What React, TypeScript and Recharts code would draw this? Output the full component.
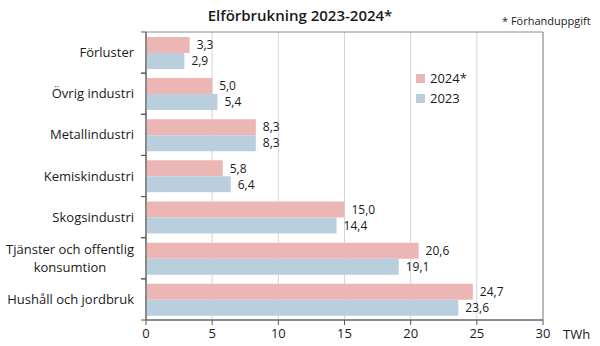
import React from "react";
import {
  BarChart,
  Bar,
  XAxis,
  YAxis,
  CartesianGrid,
  LabelList,
  Legend,
  ReferenceArea,
} from "recharts";

const categories = [
  "Förluster",
  "Övrig industri",
  "Metallindustri",
  "Kemiskindustri",
  "Skogsindustri",
  "Tjänster och offentlig\nkonsumtion",
  "Hushåll och jordbruk",
];
const values2024 = [3.3, 5.0, 8.3, 5.8, 15.0, 20.6, 24.7];
const values2023 = [2.9, 5.4, 8.3, 6.4, 14.4, 19.1, 23.6];
const seriesNames = ["2024*", "2023"];
const xTicks = [0, 5, 10, 15, 20, 25, 30];

const data = categories.map((name, i) => ({
  name,
  y2024: values2024[i],
  y2023: values2023[i],
}));

const FONT = "'Open Sans', sans-serif";
const PINK = "#ebb6b4";
const BLUE = "#b9cfdd";
const TEXT = "#1a1a1a";
const FS = 13;
const LABEL_FS = 12;

const fmt = (v: any) => Number(v).toFixed(1).replace(".", ",");

function CategoryTick(props: any) {
  const { x, y, payload } = props;
  const lines = String(payload.value).split("\n");
  const half = 20.6;
  return (
    <g>
      <line x1={x + 7} x2={x + 12} y1={y - half} y2={y - half} stroke="#555" />
      <line x1={x + 7} x2={x + 12} y1={y + half} y2={y + half} stroke="#555" />
      {lines.length === 1 ? (
        <text x={x} y={y} dy={4.5} textAnchor="end" fontSize={FS} fill={TEXT} fontFamily={FONT}>
          {lines[0]}
        </text>
      ) : (
        lines.map((l, i) => (
          <text
            key={i}
            x={i === 0 ? x : x - 64}
            y={y + (i - 0.5) * 18}
            dy={4.5}
            textAnchor={i === 0 ? "end" : "middle"}
            fontSize={FS}
            fill={TEXT}
            fontFamily={FONT}
          >
            {l}
          </text>
        ))
      )}
    </g>
  );
}

function LegendBox(props: any) {
  const items = [...(props.payload || [])].sort(
    (a: any, b: any) => seriesNames.indexOf(a.value) - seriesNames.indexOf(b.value)
  );
  return (
    <div style={{ fontFamily: FONT, fontSize: FS, color: TEXT }}>
      {items.map((it: any) => (
        <div key={it.value} style={{ display: "flex", alignItems: "center", height: 20 }}>
          <span style={{ width: 9, height: 9, background: it.color, marginRight: 5 }} />
          {it.value}
        </div>
      ))}
    </div>
  );
}

export default function App() {
  return (
    <div style={{ position: "absolute", left: 0, top: 0, width: 600, height: 346, background: "#fff" }}>
      <div
        style={{
          position: "absolute",
          left: 0,
          width: 600,
          top: 5,
          textAlign: "center",
          fontFamily: FONT,
          fontSize: 15,
          fontWeight: 600,
          color: TEXT,
        }}
      >
        Elförbrukning 2023-2024*
      </div>
      <div
        style={{
          position: "absolute",
          left: 502,
          top: 13,
          fontFamily: FONT,
          fontSize: 11,
          color: TEXT,
        }}
      >
        * Förhanduppgift
      </div>
      <div
        style={{
          position: "absolute",
          left: 563,
          top: 325,
          fontFamily: FONT,
          fontSize: FS,
          color: TEXT,
        }}
      >
        TWh
      </div>
      <BarChart
        width={600}
        height={346}
        data={data}
        layout="vertical"
        margin={{ top: 32, right: 57, bottom: 0, left: 0 }}
        barCategoryGap="12%"
        barGap={0}
      >
        <CartesianGrid horizontal={false} stroke="#d4d4d4" />
        <ReferenceArea x1={0} x2={30} fill="none" stroke="#8a8a8a" strokeWidth={1} />
        <XAxis
          type="number"
          domain={[0, 30]}
          ticks={xTicks}
          height={26}
          axisLine={{ stroke: "#555" }}
          tickLine={{ stroke: "#555" }}
          tickSize={5}
          tickMargin={4}
          tick={{ fontSize: FS, fill: TEXT, fontFamily: FONT }}
        />
        <YAxis
          type="category"
          dataKey="name"
          width={146}
          axisLine={{ stroke: "#555" }}
          tickLine={false}
          tickSize={0}
          tickMargin={12}
          interval={0}
          tick={<CategoryTick />}
        />
        <Legend
          layout="horizontal"
          verticalAlign="middle"
          align="center"
          wrapperStyle={{ left: 416, top: 68, width: 80 }}
          content={<LegendBox />}
        />
        <Bar dataKey="y2024" name={seriesNames[0]} fill={PINK} isAnimationActive={false}>
          <LabelList
            dataKey="y2024"
            position="right"
            offset={7}
            formatter={fmt}
            style={{ fontSize: LABEL_FS, fill: TEXT, fontFamily: FONT }}
          />
        </Bar>
        <Bar dataKey="y2023" name={seriesNames[1]} fill={BLUE} isAnimationActive={false}>
          <LabelList
            dataKey="y2023"
            position="right"
            offset={7}
            formatter={fmt}
            style={{ fontSize: LABEL_FS, fill: TEXT, fontFamily: FONT }}
          />
        </Bar>
      </BarChart>
    </div>
  );
}
